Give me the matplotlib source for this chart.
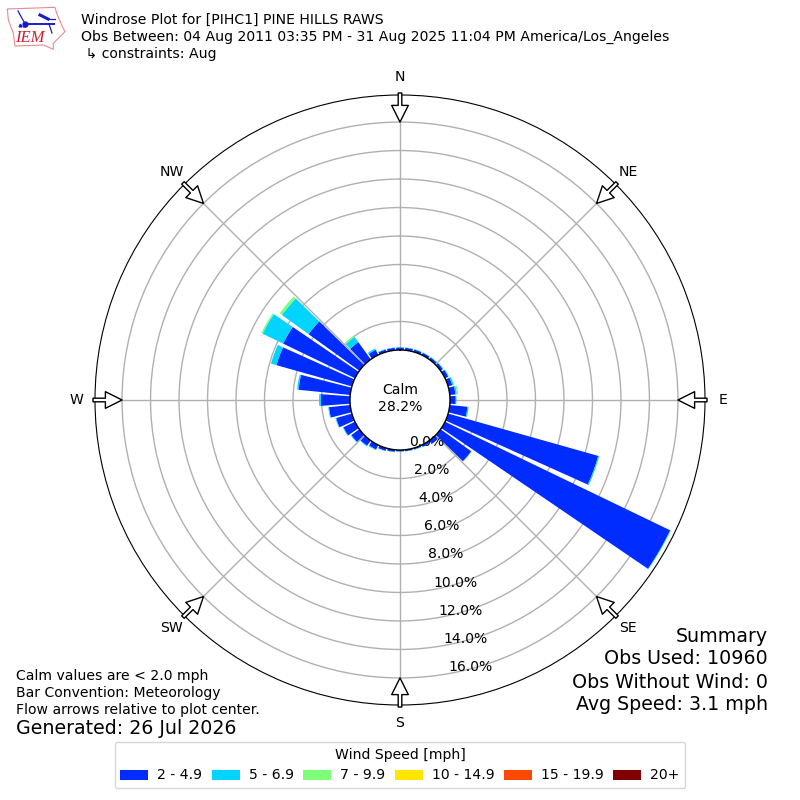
import numpy as np
import matplotlib
matplotlib.use("Agg")
import matplotlib.pyplot as plt
from matplotlib.patches import Polygon

directions = list(range(0, 360, 10))
speed_labels = ["2 - 4.9", "5 - 6.9", "7 - 9.9", "10 - 14.9", "15 - 19.9", "20+"]
speed_colors = ["#002cff", "#00d4ff", "#7dff7a", "#ffe600", "#ff4800", "#7f0000"]
#         0    10   20   30   40   50   60   70   80   90  100  110   120  130  140  150  160  170
s1 = [0.17,0.17,0.17,0.17,0.17,0.2,0.25,0.3,0.4,0.4,1.25,10.95,17.55,2.65,0.3,0.15,0.1,0.1,
      # 180 190 200  210  220  230  240  250  260  270  280  290  300  310  320  330  340  350
      0.1,0.15,0.2,0.35,0.45,0.7,0.9,1.15,1.5,2.05,3.65,5.5,5.6,4.4,1.5,0.4,0.17,0.17]
s2 = [0.03,0.03,0.03,0.03,0.03,0.04,0.05,0.1,0.1,0.05,0.08,0.07,0.04,0.03,0.0,0.02,0.02,0.02,
      0.02,0.02,0.02,0.05,0.05,0.05,0.05,0.05,0.05,0.12,0.1,0.4,1.6,2.3,0.45,0.1,0.03,0.03]
s3 = [0.0,0.0,0.0,0.0,0.0,0.0,0.02,0.05,0.1,0.0,0.0,0.0,0.0,0.0,0.0,0.0,0.0,0.0,
      0.0,0.0,0.0,0.0,0.0,0.0,0.0,0.0,0.0,0.0,0.0,0.0,0.1,0.2,0.1,0.0,0.0,0.0]
s4 = [0.0] * 36
s5 = [0.0] * 36
s6 = [0.0] * 36
series = [s1, s2, s3, s4, s5, s6]
r_ticks = [0, 2, 4, 6, 8, 10, 12, 14, 16]
compass = ["N", "NE", "E", "SE", "S", "SW", "W", "NW"]
compass_deg = [0, 45, 90, 135, 180, 225, 270, 315]

title_lines = ["Windrose Plot for [PIHC1] PINE HILLS RAWS",
               "Obs Between: 04 Aug 2011 03:35 PM - 31 Aug 2025 11:04 PM America/Los_Angeles",
               " \u21b3 constraints: Aug"]
notes = ["Calm values are < 2.0 mph", "Bar Convention: Meteorology",
         "Flow arrows relative to plot center."]
summary = ["Summary", "Obs Used: 10960", "Obs Without Wind: 0", "Avg Speed: 3.1 mph"]

W = 800.0
FS = 10.06
FB = 13.65
fig = plt.figure(figsize=(8, 8), dpi=100)
ax = fig.add_axes([95 / W, 95 / W, 610 / W, 610 / W], projection="polar")
ax.set_theta_zero_location("N")
ax.set_theta_direction(-1)
RMAX = 17.9
ax.set_ylim(0, RMAX)
ax.set_rorigin(-3.51)

theta = np.deg2rad(directions)
width = np.deg2rad(8.5)
bottom = np.zeros(36)
handles = []
for vals, col, lab in zip(series, speed_colors, speed_labels):
    vals = np.array(vals)
    b = ax.bar(theta, vals, width=width, bottom=bottom, color=col, label=lab, zorder=2, linewidth=0)
    handles.append(b)
    bottom = bottom + vals

ax.set_thetagrids(compass_deg, compass, fontsize=FS)
ax.tick_params(axis="x", pad=2.5)
ax.set_yticks(r_ticks)
ax.set_yticklabels([f"{v:.1f}%" for v in r_ticks], fontsize=FS)
ax.set_rlabel_position(170)
ax.set_axisbelow(True)
ax.grid(True, color="#b0b0b0", linewidth=1.0)
ax.spines["inner"].set_visible(True)
ax.spines["inner"].set_color("black")
ax.spines["inner"].set_linewidth(1.0)

for d in compass_deg:
    ax.annotate("", xy=(np.deg2rad(d), 16), xytext=(np.deg2rad(d), RMAX + 0.14),
                arrowprops=dict(facecolor="white", edgecolor="black", width=2.6,
                                headwidth=12, headlength=12, shrink=0, linewidth=1.0),
                annotation_clip=False, zorder=5)

fig.text(400 / W, 1 - 390 / W, "Calm", ha="center", va="center", fontsize=FS)
fig.text(400 / W, 1 - 407 / W, "28.2%", ha="center", va="center", fontsize=FS)

for line, y in zip(title_lines, [20, 37, 54]):
    fig.text(81 / W, 1 - y / W, line, ha="left", va="center", fontsize=FS)
for line, y in zip(notes, [676, 693, 710]):
    fig.text(16 / W, 1 - y / W, line, ha="left", va="center", fontsize=FS)
fig.text(16 / W, 1 - 729 / W, "Generated: 26 Jul 2026", ha="left", va="center", fontsize=FB)
for line, y in zip(summary, [636, 659, 682, 705]):
    fig.text(768 / W, 1 - y / W, line, ha="right", va="center", fontsize=FB)

fig.legend(handles=handles, labels=speed_labels, title="Wind Speed [mph]", ncol=6,
           loc="center", bbox_to_anchor=(400 / W, 1 - 765 / W), fontsize=FS,
           title_fontsize=FS, handlelength=2.0, handleheight=0.75,
           handletextpad=0.65, columnspacing=0.68)

# logo (pixel coordinates)
lg = fig.add_axes([0, 1 - 60 / W, 75 / W, 60 / W])
lg.set_xlim(0, 75)
lg.set_ylim(60, 0)
lg.axis("off")
outline = np.array([(22, 27), (165, 22), (170, 40), (185, 75), (195, 95), (180, 110), (160, 130),
                    (160, 148), (130, 135), (45, 138), (40, 100), (25, 60)]) / 3
lg.add_patch(Polygon(outline, closed=True, fc="white", ec="#e88a90", lw=0.8))
blue = "#1a1acc"
lg.plot([25, 54], [24, 24], color=blue, lw=1.4)
lg.plot([25], [23.5], "o", color=blue, ms=3.5)
lg.plot([18, 24], [11, 22], color=blue, lw=0.9)
lg.plot([40, 48], [15, 19], color=blue, lw=2.2)
lg.plot([48, 55], [19, 19], color=blue, lw=0.9)
lg.plot([49, 52], [24, 33], color=blue, lw=0.9)
lg.plot([20, 24], [25, 25], "^", color=blue, ms=2)
lg.text(30, 38, "IEM", color="#d02030", family="Liberation Serif", style="italic",
        fontsize=12, ha="center", va="center")

fig.savefig("out.png", dpi=100)
